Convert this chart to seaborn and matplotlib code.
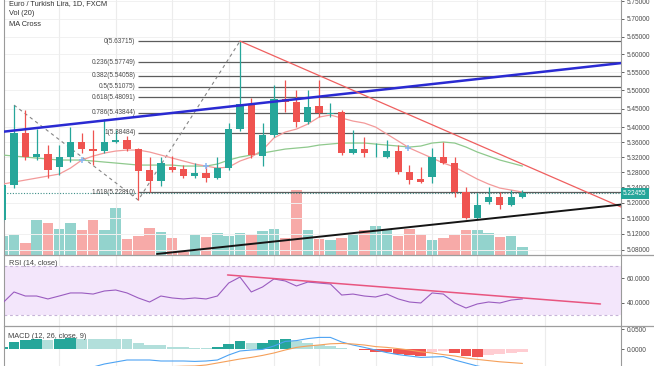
import numpy as np
import matplotlib
matplotlib.use("Agg")
import matplotlib.pyplot as plt
import seaborn as sns
from matplotlib.lines import Line2D
from matplotlib.ticker import FixedLocator, NullLocator, FuncFormatter

sns.set_theme(style="white")
plt.rcParams['font.family'] = ['Liberation Sans', 'DejaVu Sans']

# ---------------- data ----------------
title_text = "Euro / Turkish Lira, 1D, FXCM"
opens = [5.1556, 5.2462, 5.3843, 5.3202, 5.3282, 5.2936, 5.3202, 5.3602, 5.3414, 5.3361,
         5.3602, 5.3655, 5.3414, 5.2857, 5.2567, 5.2936, 5.2884, 5.2699, 5.2778, 5.2646,
         5.2910, 5.3950, 5.4627, 5.3228, 5.3789, 5.4764, 5.4682, 5.4139, 5.4573, 5.4370,
         5.4410, 5.3308, 5.3414, 5.3202, 5.3202, 5.3361, 5.2804, 5.2620, 5.2672, 5.3202,
         5.3043, 5.2281, 5.1607, 5.2020, 5.2150, 5.1942, 5.2150]
highs = [5.2515, 5.4600, 5.4465, 5.3950, 5.3521, 5.3521, 5.4004, 5.3843, 5.3924, 5.4220,
         5.3924, 5.3763, 5.3441, 5.3202, 5.3202, 5.3228, 5.2989, 5.3043, 5.2989, 5.3202,
         5.4112, 5.63715, 5.4791, 5.4112, 5.5148, 5.5286, 5.5010, 5.5010, 5.5286, 5.4654,
         5.4465, 5.3924, 5.3736, 5.3575, 5.3655, 5.3521, 5.2989, 5.2936, 5.3441, 5.3602,
         5.3202, 5.2411, 5.2255, 5.2411, 5.2281, 5.2332, 5.2332]
lows = [5.1505, 5.2384, 5.3122, 5.3122, 5.2646, 5.2725, 5.3069, 5.3308, 5.2989, 5.3308,
        5.3575, 5.3361, 5.2072, 5.2281, 5.2436, 5.2804, 5.2646, 5.2646, 5.2541, 5.2620,
        5.2857, 5.3896, 5.3175, 5.2963, 5.3736, 5.4410, 5.4004, 5.4085, 5.4274, 5.4274,
        5.3255, 5.3282, 5.3202, 5.3202, 5.3175, 5.2752, 5.2489, 5.2515, 5.2515, 5.3016,
        5.2150, 5.1581, 5.1581, 5.1968, 5.1839, 5.1916, 5.2125]
closes = [5.2462, 5.3843, 5.3202, 5.3282, 5.2857, 5.3202, 5.3602, 5.3414, 5.3361, 5.3602,
          5.3655, 5.3414, 5.2831, 5.2567, 5.3043, 5.2857, 5.2699, 5.2778, 5.2646, 5.2910,
          5.3950, 5.4627, 5.3255, 5.3789, 5.4764, 5.4682, 5.4139, 5.4546, 5.4383, 5.4383,
          5.3308, 5.3414, 5.3308, 5.3215, 5.3361, 5.2804, 5.2594, 5.2541, 5.3202, 5.3043,
          5.2281, 5.1607, 5.1942, 5.2150, 5.1942, 5.2150, 5.22455]
volume_k = [19, 21, 12, 35, 32, 26, 32, 25, 35, 25, 47, 16, 19, 27, 23, 17, 3, 21, 18, 22,
            19, 22, 20, 24, 26, 17, 65, 25, 16, 15, 17, 20, 25, 29, 26, 19, 26, 21, 15, 17,
            20, 25, 25, 22, 18, 19, 8]
ma_fast = [5.2489, 5.2541, 5.2594, 5.2646, 5.2699, 5.2752, 5.2910, 5.3122, 5.3228, 5.3308,
           5.3361, 5.3388, 5.3388, 5.3335, 5.3255, 5.3175, 5.3096, 5.3016, 5.2963, 5.2910,
           5.2936, 5.3096, 5.3202, 5.3388, 5.3709, 5.3869, 5.3950, 5.4085, 5.4274, 5.4329,
           5.4247, 5.4166, 5.4112, 5.4004, 5.3816, 5.3629, 5.3441, 5.3308, 5.3175, 5.3043,
           5.2936, 5.2778, 5.2620, 5.2489, 5.2384, 5.2332, 5.2281]
ma_slow = [5.3255, 5.3228, 5.3202, 5.3175, 5.3149, 5.3122, 5.3122, 5.3122, 5.3096, 5.3069,
           5.3043, 5.3016, 5.2989, 5.2989, 5.2989, 5.2989, 5.2963, 5.2963, 5.2963, 5.3016,
           5.3122, 5.3202, 5.3255, 5.3308, 5.3361, 5.3414, 5.3441, 5.3468, 5.3521, 5.3548,
           5.3575, 5.3575, 5.3575, 5.3548, 5.3521, 5.3495, 5.3468, 5.3495, 5.3575, 5.3602,
           5.3575, 5.3468, 5.3335, 5.3228, 5.3122, 5.3043, 5.2963]
cross_bars = [7, 18, 35.9]
cross_prices = [5.3122, 5.2963, 5.3441]

rsi = [39.8, 48.8, 45.5, 45.5, 43.1, 45.5, 48.0, 48.0, 47.1, 49.6,
       50.4, 48.0, 43.9, 40.6, 45.5, 43.9, 43.1, 43.9, 43.1, 45.5,
       56.1, 61.0, 48.8, 52.9, 59.4, 57.8, 53.7, 56.9, 56.1, 55.3,
       46.3, 47.1, 45.5, 44.7, 47.1, 43.1, 40.6, 39.8, 48.0, 47.1,
       39.8, 35.7, 39.0, 40.6, 39.8, 42.2, 43.1]
rsi_trend_bars = [19.9, 52.9]
rsi_trend_values = [62.7, 39.0]

macd = [-0.066, -0.064, -0.062, -0.060, -0.058, -0.055, -0.051, -0.048, -0.045, -0.0375,
        -0.0325, -0.0275, -0.0275, -0.0275, -0.030, -0.030, -0.030, -0.031, -0.030, -0.0275,
        -0.015, -0.005, -0.0025, -0.001, 0.0075, 0.019, 0.021, 0.026, 0.029, 0.029,
        0.0175, 0.010, 0.004, -0.0025, -0.009, -0.014, -0.0175, -0.021, -0.020, -0.019,
        -0.0275, -0.035, -0.0425, -0.0475, -0.050, -0.052, -0.053]
signal = [-0.075, -0.074, -0.073, -0.072, -0.070, -0.068, -0.066, -0.064, -0.061, -0.058,
          -0.055, -0.052, -0.049, -0.046, -0.045, -0.044, -0.043, -0.0425, -0.040, -0.035,
          -0.030, -0.025, -0.021, -0.016, -0.010, -0.0025, 0.004, 0.0075, 0.010, 0.013,
          0.014, 0.0125, 0.010, 0.006, 0.004, 0.001, -0.0025, -0.007, -0.010, -0.014,
          -0.0175, -0.0225, -0.026, -0.029, -0.032, -0.034, -0.036]
hist = [0.006, 0.018, 0.0225, 0.025, 0.0225, 0.024, 0.027, 0.026, 0.025, 0.025,
        0.0245, 0.024, 0.016, 0.010, 0.009, 0.006, 0.004, 0.003, 0.0028, 0.004,
        0.012, 0.019, 0.014, 0.016, 0.0225, 0.024, 0.020, 0.016, 0.011, 0.0075,
        0.003, 0.0005, -0.003, -0.007, -0.008, -0.0125, -0.016, -0.0175, -0.007, -0.006,
        -0.011, -0.0175, -0.021, -0.016, -0.0125, -0.010, -0.0075]

fib_ratios = [0, 0.236, 0.382, 0.5, 0.618, 0.786, 1, 1.618]
fib_prices = [5.63715, 5.57749, 5.54058, 5.51075, 5.48091, 5.43844, 5.38484, 5.22810]
fib_start_bar = 12
fib_path_bars = [1, 12, 21]
fib_path_prices = [5.4600, 5.2072, 5.63715]

blue_trend_bars = [-0.24, 54.72]
blue_trend_prices = [5.3869, 5.5756]
red_trend_bars = [21, 54.72]
red_trend_prices = [5.63715, 5.1891]
black_trend_bars = [13.65, 54.72]
black_trend_prices = [5.0689, 5.1953]
last_price = 5.22455

price_ticks = [5.08, 5.12, 5.16, 5.20, 5.24, 5.28, 5.32, 5.36, 5.40, 5.45, 5.50,
               5.55, 5.60, 5.65, 5.70, 5.75]
rsi_ticks = [40, 60]
macd_ticks = [0.0, 0.05]
grid_bars = [5, 10, 15, 20, 24, 28, 33, 38, 42, 48]

# ---------------- styling ----------------
TEAL, RED = '#26a69a', '#ef5350'
TEAL_L, RED_L = '#93d3cd', '#f7aaa8'
GRID = '#ececec'
AXC = '#9a9a9a'
TXT = '#4a4a4a'
FS = 4.7

W, H = 654.0, 366.0
fig = plt.figure(figsize=(W / 100, H / 100), dpi=100)
fig.patch.set_facecolor('white')


def rect(x0, y0, x1, y1):
    return [x0 / W, 1 - y1 / H, (x1 - x0) / W, (y1 - y0) / H]


ax_vol = fig.add_axes(rect(4, 0, 621, 255))
ax = fig.add_axes(rect(4, 0, 621, 255))
ax_rsi = fig.add_axes(rect(4, 255, 621, 326))
ax_macd = fig.add_axes(rect(4, 326, 621, 366))
ax.set_facecolor('none')

n = len(closes)
bars = np.arange(n)
o, h, l, c = map(np.array, (opens, highs, lows, closes))
up = c >= o
XL = (0.115, 54.72)

for a in (ax_vol, ax, ax_rsi, ax_macd):
    a.set_xlim(*XL)
    a.tick_params(axis='x', bottom=False, labelbottom=False)
    for s in ('top', 'bottom'):
        a.spines[s].set_visible(False)
    for s in ('left', 'right'):
        a.spines[s].set_color(AXC)
        a.spines[s].set_linewidth(0.8)
    a.grid(False)

for a in (ax_vol, ax_rsi, ax_macd):
    for gb in grid_bars:
        a.axvline(gb, color=GRID, lw=0.8, zorder=0)

# volume
ax_vol.bar(bars, volume_k, width=0.93, color=np.where(up, TEAL_L, RED_L), linewidth=0, zorder=1)
ax_vol.set_ylim(0, 255)
ax_vol.set_yticks([])
for s in ax_vol.spines.values():
    s.set_visible(False)

# main price axis
ax.set_yscale('log')
ax.set_ylim(5.0663, 5.754)
ax.yaxis.set_major_locator(FixedLocator(price_ticks))
ax.yaxis.set_minor_locator(NullLocator())
ax.yaxis.set_major_formatter(FuncFormatter(lambda v, p: f"{v:.5f}"))
ax.yaxis.tick_right()
ax.tick_params(axis='y', labelsize=FS, colors=TXT, length=2.5, width=0.6, pad=1.5)
ax.spines['right'].set_color(AXC)
for tp in price_ticks:
    ax.axhline(tp, color='#f1f1f1', lw=0.7, zorder=0)
for gb in grid_bars:
    ax.axvline(gb, color='#ededed', lw=0.7, zorder=0)

# last price dotted line
ax.axhline(last_price, color='#3f8f88', lw=0.8, ls=(0, (1, 1.5)), zorder=2)

# fib levels
for r, p in zip(fib_ratios, fib_prices):
    ax.hlines(p, fib_start_bar, XL[1], color='#5c5c5c', lw=0.9, zorder=2)
    ax.text(fib_start_bar - 0.25, p, f"{r:g}({p:.5f})", ha='right', va='center',
            fontsize=FS, color=TXT, zorder=6)
ax.plot(fib_path_bars, fib_path_prices, color='#858585', lw=0.8, ls=(0, (3, 3)), zorder=2)

# trend lines
ax.plot(blue_trend_bars, blue_trend_prices, color='#2a2ad2', lw=1.8, zorder=5)
ax.plot(red_trend_bars, red_trend_prices, color='#ef5f5f', lw=0.9, zorder=5)
ax.plot(black_trend_bars, black_trend_prices, color='#151515', lw=1.4, zorder=5)

# moving averages
sns.lineplot(x=bars, y=ma_slow, ax=ax, color='#8fc98d', lw=0.9, zorder=3)
sns.lineplot(x=bars, y=ma_fast, ax=ax, color='#f39a9a', lw=0.9, zorder=3)

# candles
cols = np.where(up, TEAL, RED)
ax.vlines(bars, l, h, colors=cols, lw=0.9, zorder=4)
body_lo = np.minimum(o, c)
body_h = np.maximum(np.abs(c - o), 0.0012)
ax.bar(bars, body_h, bottom=body_lo, width=0.64, color=cols, linewidth=0, zorder=4)

ax.scatter(cross_bars, cross_prices, marker='+', s=22, color='#86b6f2', linewidths=1.1, zorder=6)
ax.set_xlim(*XL)

# last price tag
ax.text(1.003, last_price, "5.22455", transform=ax.get_yaxis_transform(), ha='left', va='center',
        fontsize=FS, color='white', clip_on=False, zorder=10,
        bbox=dict(boxstyle='square,pad=0.35', fc=TEAL, ec='none'))

# RSI
ax_rsi.set_ylim(21, 79)
ax_rsi.axhspan(30, 70, color='#f3e6fb', zorder=0, lw=0)
for lv in (30, 70):
    ax_rsi.axhline(lv, color='#c7b4d8', lw=0.8, ls=(0, (2.5, 2.5)), zorder=1)
sns.lineplot(x=bars, y=rsi, ax=ax_rsi, color='#9a5cc0', lw=0.8, zorder=3)
ax_rsi.plot(rsi_trend_bars, rsi_trend_values, color='#e8557f', lw=1.1, zorder=4)
ax_rsi.set_xlim(*XL)
ax_rsi.yaxis.set_major_locator(FixedLocator(rsi_ticks))
ax_rsi.yaxis.set_major_formatter(FuncFormatter(lambda v, p: f"{v:.4f}"))
ax_rsi.yaxis.tick_right()
ax_rsi.tick_params(axis='y', labelsize=FS, colors=TXT, length=2.5, width=0.6, pad=1.5)
ax_rsi.set_ylabel('')

# MACD
hist_a = np.array(hist)
prev = np.concatenate([[-1], hist_a[:-1]])
hcols = np.where(hist_a >= 0,
                 np.where(hist_a > prev, TEAL, '#b2dfdb'),
                 np.where(hist_a < prev, RED, '#ffcdd2'))
ax_macd.bar(bars, hist_a, width=0.96, color=hcols, linewidth=0, zorder=2)
sns.lineplot(x=bars, y=macd, ax=ax_macd, color='#4da3f3', lw=0.8, zorder=3)
sns.lineplot(x=bars, y=signal, ax=ax_macd, color='#f5a05a', lw=0.8, zorder=3)
ax_macd.set_ylim(-0.0425, 0.0575)
ax_macd.set_xlim(*XL)
ax_macd.yaxis.set_major_locator(FixedLocator(macd_ticks))
ax_macd.yaxis.set_major_formatter(FuncFormatter(lambda v, p: f"{v:.4f}"))
ax_macd.yaxis.tick_right()
ax_macd.tick_params(axis='y', labelsize=FS, colors=TXT, length=2.5, width=0.6, pad=1.5)
ax_macd.set_ylabel('')
ax.set_ylabel('')

# pane separators
for yy in (255, 326):
    fig.add_artist(Line2D([4 / W, 1], [1 - yy / H] * 2, color='#9e9e9e', lw=0.9,
                          transform=fig.transFigure))

# texts
fig.text(9 / W, 1 - 3.5 / H, title_text, fontsize=5.3, color='#333', va='center')
fig.text(9 / W, 1 - 13.5 / H, "Vol (20)", fontsize=5.3, color='#333', va='center')
fig.text(9 / W, 1 - 24 / H, "MA Cross", fontsize=5.3, color='#333', va='center')
fig.text(9 / W, 1 - 263.5 / H, "RSI (14, close)", fontsize=5.3, color='#444', va='center')
fig.text(8.5 / W, 1 - 336 / H, "MACD (12, 26, close, 9)", fontsize=5.3, color='#444', va='center')

fig.savefig('out.png', dpi=100, facecolor='white')
